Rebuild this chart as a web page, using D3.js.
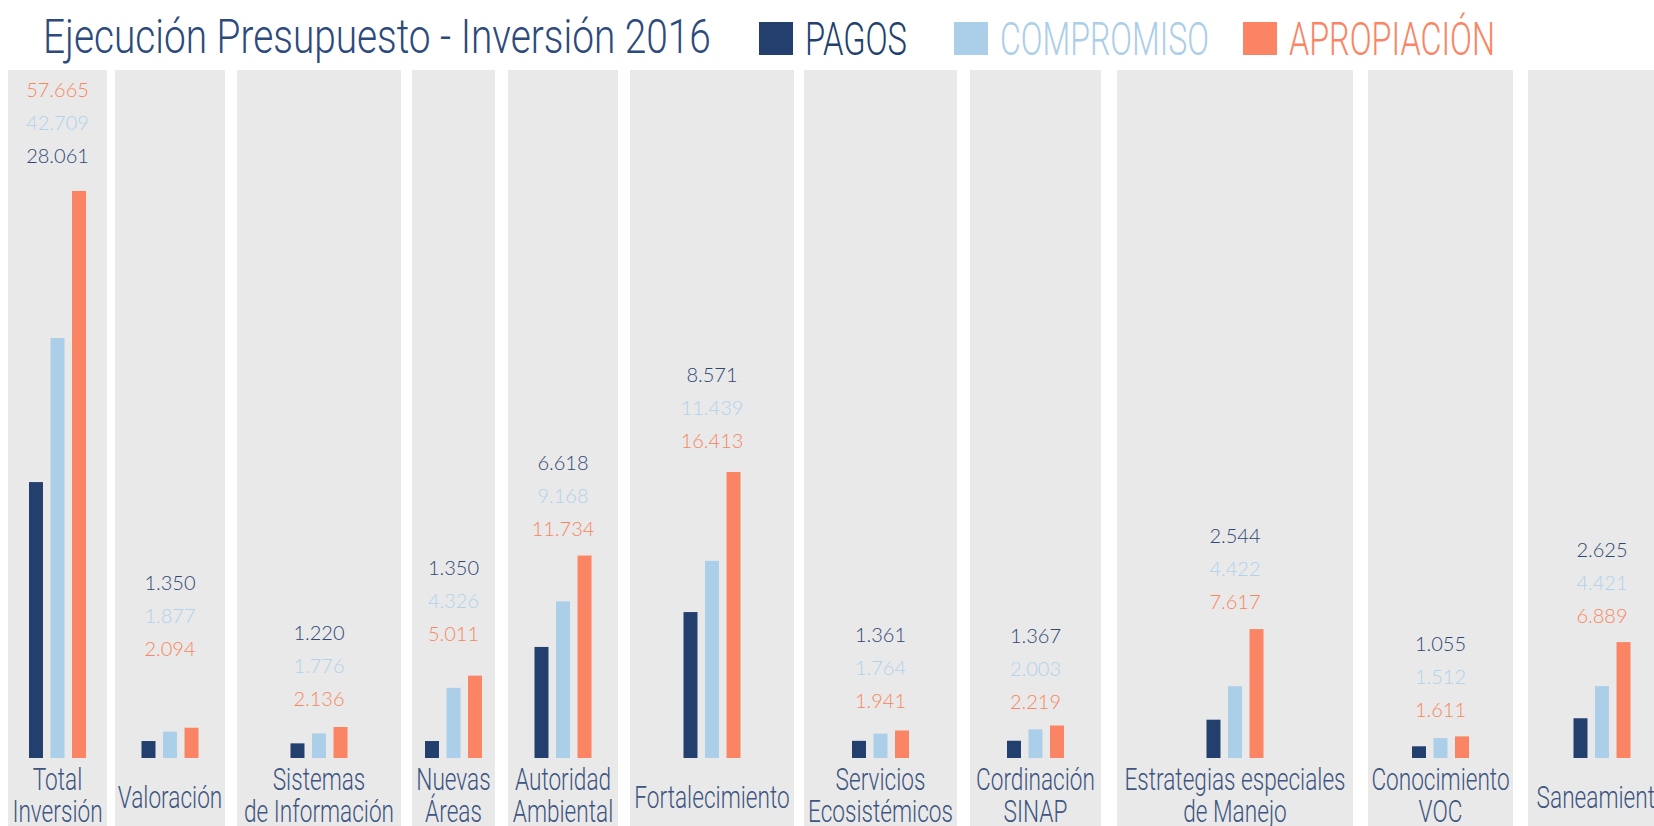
<!DOCTYPE html>
<html>
<head>
<meta charset="utf-8">
<script src="https://cdn.jsdelivr.net/npm/d3@7"></script>
<style>
  body { margin: 0; background: #fff; }
  svg { display: block; }
</style>
</head>
<body>
<div id="chart"></div>
<script>
 // Ejecucion presupuesto - inversion 2016

 // Data variables
    var categories = [
        ["Total", "Inversión"],
        ["Valoración"],
        ["Sistemas", "de Información"],
        ["Nuevas", "Áreas"],
        ["Autoridad", "Ambiental"],
        ["Fortalecimiento"],
        ["Servicios", "Ecosistémicos"],
        ["Cordinación", "SINAP"],
        ["Estrategias especiales", "de Manejo"],
        ["Conocimiento", "VOC"],
        ["Saneamiento"]
    ];
    var seriesNames = ["PAGOS", "COMPROMISO", "APROPIACIÓN"];
    var pagos       = [28061, 1350, 1220, 1350, 6618, 8571, 1361, 1367, 2544, 1055, 2625];
    var compromiso  = [42709, 1877, 1776, 4326, 9168, 11439, 1764, 2003, 4422, 1512, 4421];
    var apropiacion = [57665, 2094, 2136, 5011, 11734, 16413, 1941, 2219, 7617, 1611, 6889];

    //
    // layout
    //
    var w = 1654;
    var h = 826;
    var colors = ['#223f6e', '#abcee9', '#fa8463'];
    var labelColors = ['#2e4775', '#b1d2ec', '#f8865f'];
    var panelGray = '#e9e9e9';
    var textBlue = '#3d5580';
    var baseY = 758;
    var panelTop = 70;
    // panel left edges and widths (px)
    var panelX = [8, 115, 237, 412, 508, 630, 804, 970, 1117, 1368, 1528];
    var panelW = [99, 110, 164, 83, 110, 164, 153, 131, 236, 145, 148];
    // gap between tallest bar and the lowest value label
    var labelGap = [28, 72, 21, 35, 20, 24, 22, 17, 20, 19, 19];
    var squeeze = 0.73;
    var condensedFont = 'Roboto, sans-serif';

    var series = [pagos, compromiso, apropiacion];
    var fmt = d3.formatLocale({decimal: ',', thousands: '.', grouping: [3], currency: ['$', '']}).format(',d');

    // the total panel has its own scale, the programs share one
    var yTotal = d3.scaleLinear().domain([0, d3.max(apropiacion)]).range([0, 567]);
    var yProg = d3.scaleLinear().domain([400, d3.max(apropiacion.slice(1))]).range([0, 286]);
    var xInner = d3.scaleBand().domain(seriesNames).range([-28.5, 28.5]).paddingInner(0.35);

    var svg = d3.select('#chart').append('svg')
        .attr('width', w)
        .attr('height', h);

    // condensed text: draw with a horizontal squeeze, optionally fit to a width
    function condensedText(g, str, x, y, size, color, anchor, fitWidth) {
        var t = g.append('text')
            .text(str)
            .attr('font-family', condensedFont)
            .attr('font-weight', 300)
            .attr('font-size', size)
            .attr('fill', color)
            .attr('text-anchor', anchor || 'start');
        var sx = squeeze;
        if (fitWidth) sx = fitWidth / t.node().getComputedTextLength();
        t.attr('transform', 'translate(' + x + ',' + y + ') scale(' + sx + ',1)');
        return t;
    }

    // title
    condensedText(svg, 'Ejecución Presupuesto - Inversión 2016', 43, 53, 49, '#2c4a7c', 'start', 668);

    // legend
    var legendX = [759, 954, 1243];
    var legendW = [102, 209, 206];
    seriesNames.forEach(function(name, i) {
        svg.append('rect')
            .attr('x', legendX[i]).attr('y', 22)
            .attr('width', 34).attr('height', 33)
            .attr('fill', colors[i]);
        condensedText(svg, name, legendX[i] + 46, 55, 47, colors[i], 'start', legendW[i]);
    });

    // panels
    var panels = svg.selectAll('g.panel')
        .data(categories)
        .enter()
        .append('g')
        .attr('class', 'panel')
        .attr('transform', function(d, i) { return 'translate(' + (panelX[i] + panelW[i] / 2) + ',0)'; });

    panels.append('rect')
        .attr('x', function(d, i) { return -panelW[i] / 2; })
        .attr('y', panelTop)
        .attr('width', function(d, i) { return panelW[i]; })
        .attr('height', h - panelTop)
        .attr('fill', panelGray);

    panels.each(function(lines, i) {
        var g = d3.select(this);
        var y = i === 0 ? yTotal : yProg;
        var vals = series.map(function(s) { return s[i]; });

        // bars
        g.selectAll('rect.bar')
            .data(vals)
            .enter()
            .append('rect')
            .attr('class', 'bar')
            .attr('x', function(d, k) { return xInner(seriesNames[k]); })
            .attr('width', xInner.bandwidth())
            .attr('y', function(d) { return baseY - y(d); })
            .attr('height', function(d) { return y(d); })
            .attr('fill', function(d, k) { return colors[k]; });

        // value labels stacked above the tallest bar
        var top = baseY - y(d3.max(vals)) - labelGap[i];
        var order = i === 0 ? [2, 1, 0] : [0, 1, 2];
        order.forEach(function(k, pos) {
            g.append('text')
                .attr('x', 0)
                .attr('y', top - (2 - pos) * 33)
                .attr('text-anchor', 'middle')
                .attr('font-family', 'Lato, sans-serif')
                .attr('font-weight', 300)
                .attr('font-size', 20)
                .attr('fill', labelColors[k])
                .text(fmt(vals[k]));
        });

        // category label
        lines.forEach(function(line, j) {
            var ly = lines.length === 1 ? 808 : 790 + j * 32;
            condensedText(g, line, 0, ly, 31, textBlue, 'middle');
        });
    });

    // end of chart
</script>
</body>
</html>
